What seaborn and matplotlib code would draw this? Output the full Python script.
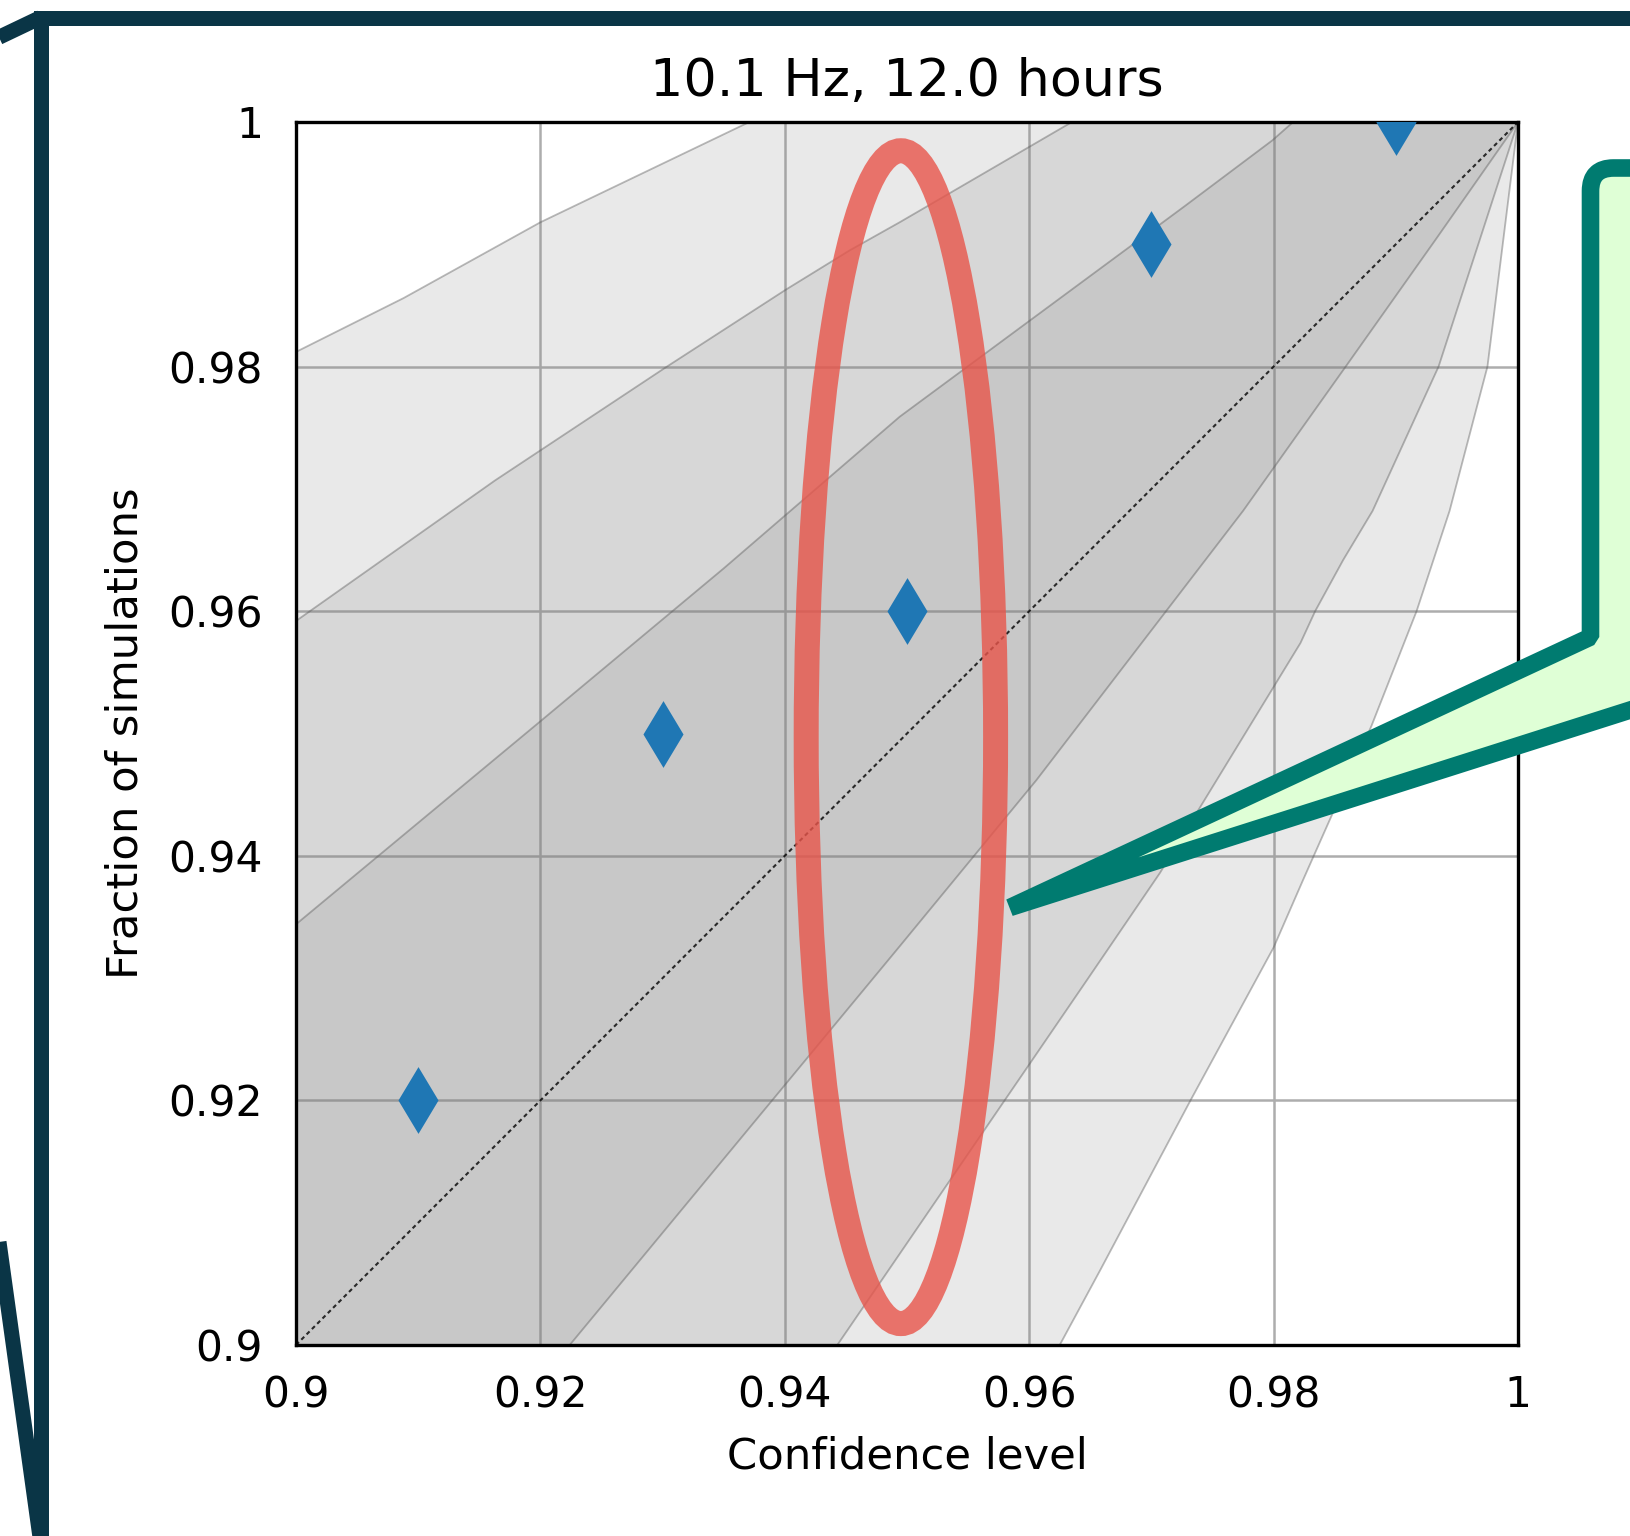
import matplotlib
matplotlib.use("Agg")
import matplotlib.pyplot as plt
import seaborn as sns
import pandas as pd
from matplotlib.patches import Ellipse, PathPatch
from matplotlib.path import Path
from matplotlib.lines import Line2D

# ---------------- data ----------------
title = "10.1 Hz, 12.0 hours"
x_label = "Confidence level"
y_label = "Fraction of simulations"
ticks = [0.90, 0.92, 0.94, 0.96, 0.98, 1.00]
tick_labels = ["0.9", "0.92", "0.94", "0.96", "0.98", "1"]

confidence_levels = [0.91, 0.93, 0.95, 0.97, 0.99]
fractions = [0.92, 0.95, 0.96, 0.99, 1.00]

# band boundaries (inner, middle, outer)
upper1_x = [0.900, 0.920, 0.935, 0.9494, 0.9601, 0.9727, 0.9799, 0.9816]
upper1_y = [0.9344, 0.9510, 0.9635, 0.9759, 0.9838, 0.9931, 0.9985, 1.000]
lower1_x = [0.9224, 0.9494, 0.9606, 0.9775, 0.9859, 0.9932, 1.000]
lower1_y = [0.900, 0.9326, 0.9462, 0.9682, 0.980, 0.9903, 1.000]

upper2_x = [0.900, 0.9163, 0.9302, 0.9401, 0.9453, 0.9494, 0.9635]
upper2_y = [0.9592, 0.9707, 0.9799, 0.9863, 0.9895, 0.9918, 1.000]
lower2_x = [0.9443, 0.9647, 0.9707, 0.9822, 0.9834, 0.9857, 0.9881, 0.9935, 1.000]
lower2_y = [0.900, 0.9298, 0.9386, 0.9574, 0.960, 0.9642, 0.9682, 0.980, 1.000]

upper3_x = [0.900, 0.9088, 0.920, 0.9371]
upper3_y = [0.9812, 0.9856, 0.9918, 1.000]
lower3_x = [0.9625, 0.9658, 0.9732, 0.980, 0.9824, 0.988, 0.9917, 0.9944, 0.9975, 1.000]
lower3_y = [0.900, 0.9061, 0.920, 0.9325, 0.938, 0.9506, 0.960, 0.9682, 0.980, 1.000]

bands = [
    (upper1_x, upper1_y, lower1_x, lower1_y),
    (upper2_x, upper2_y, lower2_x, lower2_y),
    (upper3_x, upper3_y, lower3_x, lower3_y),
]

# highlighted region (data coords)
highlight_center = (0.9495, 0.9497)
highlight_size = (0.0155, 0.0959)

# ---------------- style ----------------
sns.set_theme(style="white")
plt.rcParams["font.family"] = ["DejaVu Sans"]

W, H, DPI = 1630, 1536, 100
fig = plt.figure(figsize=(W / DPI, H / DPI), dpi=DPI)
fig.patch.set_facecolor("white")

ax = fig.add_axes([296 / W, 1 - 1345 / H, 1222 / W, 1223 / H])
ax.set_facecolor("white")
ax.set_xlim(0.9, 1.0)
ax.set_ylim(0.9, 1.0)
ax.set_axisbelow(True)
ax.grid(True, color="#adadad", linewidth=1.8)

for ux, uy, lx, ly in bands:
    px = list(ux) + [1.0] + list(lx)[::-1] + [0.9]
    py = list(uy) + [1.0] + list(ly)[::-1] + [0.9]
    ax.fill(px, py, facecolor="0.5", alpha=0.17, edgecolor="none", zorder=1)
    ax.plot(ux, uy, color="0.35", alpha=0.42, lw=1.3, zorder=1.5)
    ax.plot(lx, ly, color="0.35", alpha=0.42, lw=1.3, zorder=1.5)

diag = pd.DataFrame({"x": [0.9, 1.0], "y": [0.9, 1.0]})
sns.lineplot(data=diag, x="x", y="y", ax=ax, color="black", lw=1.5,
             linestyle=(0, (2.0, 1.6)), alpha=0.8, zorder=2)

pts = pd.DataFrame({"conf": confidence_levels, "frac": fractions})
sns.scatterplot(data=pts, x="conf", y="frac", ax=ax, marker="d", s=34 ** 2,
                color="#1f77b4", linewidth=0, zorder=3)

ax.add_patch(Ellipse(highlight_center, highlight_size[0], highlight_size[1],
                     facecolor="none", edgecolor="#e8554a", alpha=0.8,
                     lw=18, zorder=4))

ax.set_xticks(ticks)
ax.set_xticklabels(tick_labels)
ax.set_yticks(ticks)
ax.set_yticklabels(tick_labels)
ax.tick_params(axis="both", direction="out", length=12.2, width=2.2,
               labelsize=30.5, colors="black")
ax.tick_params(axis="x", pad=9.0)
ax.tick_params(axis="y", pad=11.5)
for s in ax.spines.values():
    s.set_visible(True)
    s.set_color("black")
    s.set_linewidth(2.4)
ax.set_xlabel(x_label, fontsize=31.2, labelpad=13.5, color="black")
ax.set_ylabel(y_label, fontsize=31.2, labelpad=16, color="black")
ax.set_title(title, fontsize=37.6, pad=19, color="black")

# ---------------- overlays (figure pixel coords) ----------------
pix = fig.dpi_scale_trans
def P(x, y):
    return (x / DPI, (H - y) / DPI)

frame_col = "#0a3546"
fw = 15 * 0.72
frame = [P(1760, 17.5), P(40.5, 17.5), P(40.5, 1541), P(1760, 1541)]
fig.add_artist(Line2D([p[0] for p in frame], [p[1] for p in frame],
                      transform=pix, color=frame_col, lw=fw,
                      solid_joinstyle="miter", solid_capstyle="butt", zorder=5))
c1 = [P(-80, 75), P(40.5, 17.5)]
fig.add_artist(Line2D([p[0] for p in c1], [p[1] for p in c1], transform=pix,
                      color=frame_col, lw=fw, solid_capstyle="butt", zorder=5))
c2 = [P(-30, 1033), P(40.5, 1541)]
fig.add_artist(Line2D([p[0] for p in c2], [p[1] for p in c2], transform=pix,
                      color=frame_col, lw=fw, solid_capstyle="butt", zorder=5))

r = 23
verts = [P(1010, 907.5), P(1590.5, 637), P(1590.5, 168 + r), P(1590.5, 168),
         P(1590.5 + r, 168), P(1760, 168), P(1760, 668.7), P(1010, 907.5)]
codes = [Path.MOVETO, Path.LINETO, Path.LINETO, Path.CURVE3, Path.CURVE3,
         Path.LINETO, Path.LINETO, Path.CLOSEPOLY]
fig.add_artist(PathPatch(Path(verts, codes), transform=pix, facecolor="#dfffd6",
                         edgecolor="#007b70", lw=17.6 * 0.72, joinstyle="bevel",
                         zorder=6))

fig.savefig("out.png", dpi=DPI, facecolor="white")
